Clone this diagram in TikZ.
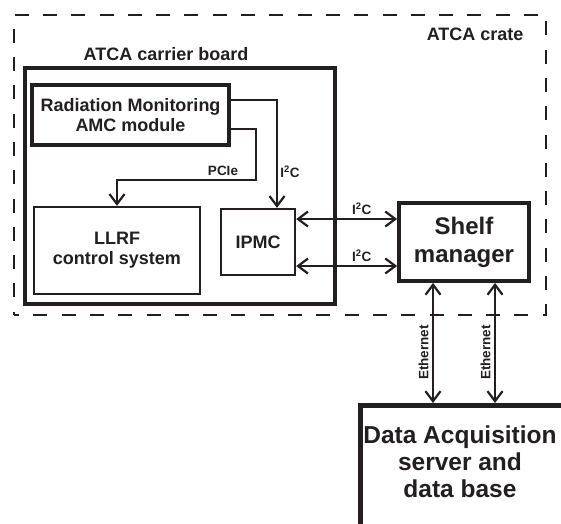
\documentclass[tikz,border=0pt]{standalone}
\usepackage{fontspec}
\setmainfont{Liberation Sans}
\usetikzlibrary{arrows.meta}
\definecolor{ink}{RGB}{35,31,32}

\begin{document}
\begin{tikzpicture}[x=1pt, y=-1pt, ink,
  every node/.style={text=ink, align=center},
  thickbox/.style={draw, line width=3.8pt, inner sep=0pt},
  thinbox/.style={draw, line width=2.3pt, inner sep=0pt},
  midfont/.style={font=\fontsize{18}{20}\selectfont\bfseries},
  bigfont/.style={font=\fontsize{24}{28}\selectfont\bfseries},
  smallfont/.style={font=\fontsize{13.5}{15}\selectfont\bfseries},
  >={Straight Barb[length=10pt,width=15pt,line width=2.2pt]},
  wire/.style={line width=1.3pt, ->},
  bus/.style={line width=2.3pt, <->}]
  \path[use as bounding box] (0,0) rectangle (561,523);
  \clip (0,0) rectangle (561,523);

  \node[draw, line width=2.7pt, dash pattern=on 14pt off 14.3pt, dash phase=9pt, minimum width=532pt, minimum height=300pt] (crate) at (280,165) {};
  \node[midfont, anchor=east] (cratelabel) at (527,34) {ATCA crate};
  \node[thickbox, minimum width=310pt, minimum height=236pt] (board) at (180,186) {};
  \node[midfont] (boardlabel) at (166,54) {ATCA carrier board};

  \node[thickbox, midfont, minimum width=197pt, minimum height=60pt] (rad) at (130.5,115) {Radiation Monitoring\\AMC module};
  \node[thinbox, midfont, minimum width=166pt, minimum height=87pt] (llrf) at (117,250.5) {LLRF\\control system};
  \node[thinbox, midfont, minimum width=74pt, minimum height=66pt] (ipmc) at (258,242) {IPMC};
  \node[thickbox, bigfont, minimum width=130pt, minimum height=78pt] (shelf) at (464,242) {Shelf\\manager};
  \node[draw, line width=4.5pt, inner sep=0pt, minimum width=230pt, minimum height=140pt, anchor=north west] (daq) at (358,403) {};
  \node[font=\fontsize{24.5}{27}\selectfont\bfseries] (daqtext) at (460,462) {Data Acquisition\\server and\\data base};

  \draw[wire] ([yshift=15pt]rad.east) -| ([xshift=19pt]ipmc.north);
  \draw[wire] ([yshift=-14pt]rad.east) -| (256,180) -| (llrf.north);
  \node[smallfont] (pcie) at (223,171) {PCIe};
  \node[smallfont] (i2cwire) at (290,172) {I\textsuperscript{2}C};

  \draw[bus] ([yshift=23pt]ipmc.east) -- ([yshift=23pt]shelf.west) node[smallfont, pos=0.65, above] (i2ctop) {I\textsuperscript{2}C};
  \draw[bus] ([yshift=-24pt]ipmc.east) -- ([yshift=-24pt]shelf.west) node[smallfont, pos=0.65, above] (i2cbot) {I\textsuperscript{2}C};

  \coordinate (eth1) at ([xshift=-31pt]shelf.south);
  \coordinate (eth2) at ([xshift=31pt]shelf.south);
  \draw[bus] (eth1 |- daq.north) -- (eth1) node[smallfont, pos=0.42, sloped, above] (ethleft) {Ethernet};
  \draw[bus] (eth2 |- daq.north) -- (eth2) node[smallfont, pos=0.42, sloped, above] (ethright) {Ethernet};
\end{tikzpicture}
\end{document}
